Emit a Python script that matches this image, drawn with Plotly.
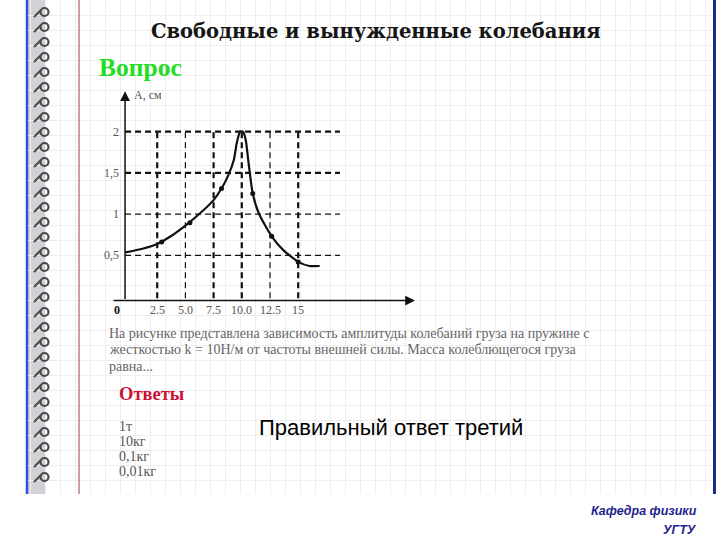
import plotly.graph_objects as go

W, H = 720, 540

# ---------------- data ----------------
omega = [-0.35, 1.2, 2.5, 3.8, 5.0, 6.3, 7.5, 8.2, 8.8, 9.3, 9.55, 9.85, 10.1,
         10.35, 10.6, 10.97, 11.5, 12.6, 13.7, 15.0, 16.0, 16.9]
amp = [0.535, 0.58, 0.637, 0.74, 0.86, 1.01, 1.17, 1.31, 1.47, 1.66, 1.86, 2.0,
       2.0, 1.9, 1.62, 1.25, 1.01, 0.74, 0.56, 0.42, 0.37, 0.37]
dot_omega = [2.9, 5.4, 8.2, 10.97, 12.65, 15.0]
dot_amp = [0.66, 0.895, 1.31, 1.25, 0.73, 0.42]
x_ticks = [2.5, 5.0, 7.5, 10.0, 12.5, 15.0]
x_tick_labels = ["2.5", "5.0", "7.5", "10.0", "12.5", "15"]
y_ticks = [0.5, 1.0, 1.5, 2.0]
y_tick_labels = ["0,5", "1", "1,5", "2"]
title_text = "Свободные и вынужденные колебания"
question_head = "Вопрос"
question_lines = [
    "На рисунке представлена зависимость амплитуды колебаний груза на пружине с",
    "жесткостью k = 10Н/м от частоты внешней силы. Масса колеблющегося груза",
    "равна...",
]
answers_head = "Ответы"
answers = ["1т", "10кг", "0,1кг", "0,01кг"]
verdict = "Правильный ответ третий"
footer = ["Кафедра физики", "УГТУ"]

# styles (kept separate from the data)
x_tick_bold = [True, False, True, True, False, True]
y_tick_bold = [False, False, True, True]

SERIF = "Liberation Serif"
SANS = "Liberation Sans"


def px(x):
    return x / W


def py(y):
    return 1 - y / H


fig = go.Figure()

# ---------- page (graph paper) subplot: xaxis / yaxis in pixel units ----------
PAGE_L, PAGE_R, PAGE_B = 28, 713, 494
fig.update_layout(
    xaxis=dict(domain=[px(PAGE_L), px(PAGE_R)], range=[PAGE_L, PAGE_R], dtick=15, tick0=0,
               showgrid=True, gridcolor="#eeeeee", gridwidth=1, zeroline=False,
               showticklabels=False, ticks="", showline=False, fixedrange=True),
    yaxis=dict(domain=[py(PAGE_B), 1], range=[PAGE_B, 0], dtick=15, tick0=0,
               showgrid=True, gridcolor="#eeeeee", gridwidth=1, zeroline=False,
               showticklabels=False, ticks="", showline=False, fixedrange=True),
)

# spiral binding
sp_x, sp_y, ring_x, ring_y = [], [], [], []
yy = 12
while yy <= 490:
    sp_x += [34, 41, None]
    sp_y += [yy + 5, yy - 2, None]
    ring_x.append(44.5)
    ring_y.append(yy)
    yy += 15
fig.add_trace(go.Scatter(x=sp_x, y=sp_y, mode="lines", xaxis="x", yaxis="y",
                         line=dict(color="#4a4a4a", width=2), cliponaxis=False,
                         hoverinfo="skip", showlegend=False))
fig.add_trace(go.Scatter(x=ring_x, y=ring_y, mode="markers", xaxis="x", yaxis="y",
                         marker=dict(symbol="circle-open", size=8, color="#4a4a4a",
                                     line=dict(width=2.2, color="#4a4a4a")),
                         cliponaxis=False, hoverinfo="skip", showlegend=False))

# ---------- chart subplot: xaxis2 / yaxis2 ----------
X0PX, XS = 129.0, 11.28      # pixel of omega=0, pixels per unit
Y0PX, YS = 296.5, 82.4       # pixel of A=0, pixels per unit
xr = [-2.0, 26.0]
yr = [-0.2, 2.6]
fig.update_layout(
    xaxis2=dict(domain=[px(X0PX + XS * xr[0]), px(X0PX + XS * xr[1])], range=xr,
                anchor="y2", visible=False, fixedrange=True),
    yaxis2=dict(domain=[py(Y0PX - YS * yr[0]), py(Y0PX - YS * yr[1])], range=yr,
                anchor="x2", visible=False, fixedrange=True),
)

AX_X = -0.35   # position of the vertical axis line
AX_Y = -0.05   # position of the horizontal axis line
H_END = 18.7   # right end of the horizontal dashed guides

for bold in (True, False):
    gx, gy = [], []
    for t, b in zip(y_ticks, y_tick_bold):
        if b == bold:
            gx += [AX_X, H_END, None]
            gy += [t, t, None]
    for t, b in zip(x_ticks, x_tick_bold):
        if b == bold:
            gx += [t, t, None]
            gy += [-0.02, max(y_ticks), None]
    fig.add_trace(go.Scatter(x=gx, y=gy, mode="lines", xaxis="x2", yaxis="y2",
                             line=dict(color="#111111", width=2.2 if bold else 1.2,
                                       dash="6px,4px"),
                             hoverinfo="skip", showlegend=False))

fig.add_trace(go.Scatter(x=omega, y=amp, mode="lines", xaxis="x2", yaxis="y2",
                         line=dict(color="#111111", width=2.2, shape="spline", smoothing=0.55),
                         showlegend=False))
fig.add_trace(go.Scatter(x=dot_omega, y=dot_amp, mode="markers", xaxis="x2", yaxis="y2",
                         marker=dict(color="#111111", size=5), showlegend=False))

ann = []
# axes with arrows
ann.append(dict(x=AX_X, y=2.49, ax=AX_X, ay=AX_Y, xref="x2", yref="y2", axref="x2", ayref="y2",
                text="", showarrow=True, arrowhead=2, arrowsize=1.3, arrowwidth=1.5,
                arrowcolor="#111111"))
ann.append(dict(x=25.35, y=AX_Y, ax=-1.5, ay=AX_Y, xref="x2", yref="y2", axref="x2", ayref="y2",
                text="", showarrow=True, arrowhead=2, arrowsize=1.3, arrowwidth=1.5,
                arrowcolor="#111111"))
# tick labels
for t, lab in zip(x_ticks, x_tick_labels):
    ann.append(dict(x=t, y=-0.165, xref="x2", yref="y2", text=lab, showarrow=False,
                    xanchor="center", yanchor="middle",
                    font=dict(family=SERIF, size=12, color="#555555")))
ann.append(dict(x=-1.06, y=-0.165, xref="x2", yref="y2", text="<b>0</b>", showarrow=False,
                xanchor="center", yanchor="middle",
                font=dict(family=SERIF, size=12, color="#111111")))
for t, lab in zip(y_ticks, y_tick_labels):
    ann.append(dict(x=-0.71, y=t, xref="x2", yref="y2", text=lab, showarrow=False,
                    xanchor="right", yanchor="middle",
                    font=dict(family=SERIF, size=12, color="#555555")))
ann.append(dict(x=0.3, y=2.45, xref="x2", yref="y2", text="A, см", showarrow=False,
                xanchor="left", yanchor="middle",
                font=dict(family=SERIF, size=12, color="#555555")))
ann.append(dict(x=23.0, y=-0.21, xref="x2", yref="y2",
                text="<i><span style='font-size:17px'>ω</span></i>, рад/с", showarrow=False,
                xanchor="left", yanchor="middle",
                font=dict(family=SERIF, size=11, color="#555555")))

# slide texts
ann.append(dict(x=px(376), y=py(32), xref="paper", yref="paper", text="<b>" + title_text + "</b>",
                showarrow=False, xanchor="center", yanchor="middle",
                font=dict(family="DejaVu Serif", size=19.5, color="#151515")))
ann.append(dict(x=px(97), y=py(67), xref="paper", yref="paper", text="<b>" + question_head + "</b>",
                showarrow=False, xanchor="left", yanchor="middle",
                font=dict(family=SERIF, size=25.5, color="#22dd22")))
for i, line in enumerate(question_lines):
    ann.append(dict(x=px(107), y=py(333 + 16.5 * i), xref="paper", yref="paper", text=line,
                    showarrow=False, xanchor="left", yanchor="middle",
                    font=dict(family=SERIF, size=14, color="#666666")))
ann.append(dict(x=px(117), y=py(394), xref="paper", yref="paper", text="<b>" + answers_head + "</b>",
                showarrow=False, xanchor="left", yanchor="middle",
                font=dict(family=SERIF, size=18.5, color="#cc1133")))
for i, a in enumerate(answers):
    ann.append(dict(x=px(117), y=py(426 + 15 * i), xref="paper", yref="paper", text=a,
                    showarrow=False, xanchor="left", yanchor="middle",
                    font=dict(family=SERIF, size=14, color="#555555")))
ann.append(dict(x=px(257), y=py(427), xref="paper", yref="paper", text=verdict,
                showarrow=False, xanchor="left", yanchor="middle",
                font=dict(family=SANS, size=22, color="#000000")))
for i, f in enumerate(footer):
    ann.append(dict(x=px(699), y=py(511 + 19 * i), xref="paper", yref="paper",
                    text="<b><i>" + f + "</i></b>", showarrow=False,
                    xanchor="right", yanchor="middle",
                    font=dict(family=SANS, size=12.5, color="#1f1f8f")))

shapes = [
    # gray binding band and blue edge
    dict(type="rect", xref="paper", yref="paper", x0=px(28), x1=px(45), y0=py(PAGE_B), y1=1,
         fillcolor="#d2d2d6", line=dict(width=0), layer="below"),
    dict(type="line", xref="paper", yref="paper", x0=px(27), x1=px(27), y0=py(PAGE_B), y1=1,
         line=dict(color="#2f4fe0", width=2.5), layer="below"),
    # red margin line
    dict(type="line", xref="paper", yref="paper", x0=px(79), x1=px(79), y0=py(PAGE_B), y1=1,
         line=dict(color="#b46a6a", width=1.3), layer="above"),
    # right blue edge
    dict(type="line", xref="paper", yref="paper", x0=px(714.5), x1=px(714.5), y0=py(PAGE_B), y1=1,
         line=dict(color="#1c2c8c", width=3), layer="above"),
]

fig.update_layout(
    width=W, height=H, margin=dict(l=0, r=0, t=0, b=0),
    paper_bgcolor="#ffffff", plot_bgcolor="rgba(0,0,0,0)",
    annotations=ann, shapes=shapes, showlegend=False,
)

fig.write_html("out.html", config={"displayModeBar": False},
               post_script="document.body.style.margin='0px';")
